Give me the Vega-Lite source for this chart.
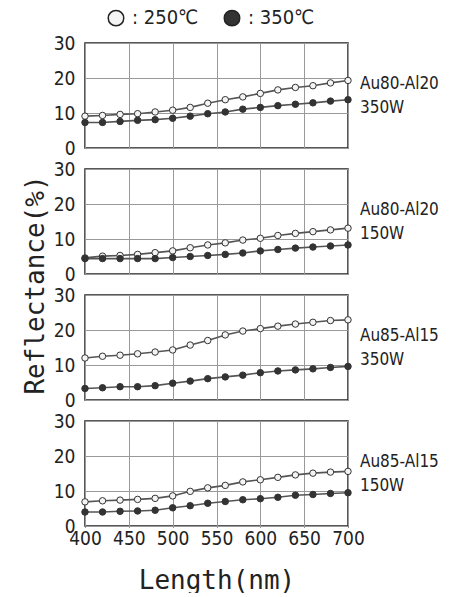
{
  "$schema": "https://vega.github.io/schema/vega-lite/v6.json",
  "padding": {"left": 22, "top": 8, "right": 0, "bottom": 0},
  "autosize": {"type": "pad"},
  "background": "white",
  "data": {"values": [
    {"panel":"Au80-Al20| 350W","temp":"250","nm":400,"r":9.1},{"panel":"Au80-Al20| 350W","temp":"250","nm":420,"r":9.3},{"panel":"Au80-Al20| 350W","temp":"250","nm":440,"r":9.6},{"panel":"Au80-Al20| 350W","temp":"250","nm":460,"r":9.8},{"panel":"Au80-Al20| 350W","temp":"250","nm":480,"r":10.3},{"panel":"Au80-Al20| 350W","temp":"250","nm":500,"r":10.8},{"panel":"Au80-Al20| 350W","temp":"250","nm":520,"r":11.6},{"panel":"Au80-Al20| 350W","temp":"250","nm":540,"r":12.8},{"panel":"Au80-Al20| 350W","temp":"250","nm":560,"r":13.8},{"panel":"Au80-Al20| 350W","temp":"250","nm":580,"r":14.6},{"panel":"Au80-Al20| 350W","temp":"250","nm":600,"r":15.6},{"panel":"Au80-Al20| 350W","temp":"250","nm":620,"r":16.6},{"panel":"Au80-Al20| 350W","temp":"250","nm":640,"r":17.3},{"panel":"Au80-Al20| 350W","temp":"250","nm":660,"r":17.8},{"panel":"Au80-Al20| 350W","temp":"250","nm":680,"r":18.6},{"panel":"Au80-Al20| 350W","temp":"250","nm":700,"r":19.3},
    {"panel":"Au80-Al20| 350W","temp":"350","nm":400,"r":7.3},{"panel":"Au80-Al20| 350W","temp":"350","nm":420,"r":7.3},{"panel":"Au80-Al20| 350W","temp":"350","nm":440,"r":7.6},{"panel":"Au80-Al20| 350W","temp":"350","nm":460,"r":7.9},{"panel":"Au80-Al20| 350W","temp":"350","nm":480,"r":8.1},{"panel":"Au80-Al20| 350W","temp":"350","nm":500,"r":8.5},{"panel":"Au80-Al20| 350W","temp":"350","nm":520,"r":9.1},{"panel":"Au80-Al20| 350W","temp":"350","nm":540,"r":9.8},{"panel":"Au80-Al20| 350W","temp":"350","nm":560,"r":10.3},{"panel":"Au80-Al20| 350W","temp":"350","nm":580,"r":11.1},{"panel":"Au80-Al20| 350W","temp":"350","nm":600,"r":11.6},{"panel":"Au80-Al20| 350W","temp":"350","nm":620,"r":12.1},{"panel":"Au80-Al20| 350W","temp":"350","nm":640,"r":12.5},{"panel":"Au80-Al20| 350W","temp":"350","nm":660,"r":12.9},{"panel":"Au80-Al20| 350W","temp":"350","nm":680,"r":13.4},{"panel":"Au80-Al20| 350W","temp":"350","nm":700,"r":13.8},
    {"panel":"Au80-Al20| 150W","temp":"250","nm":400,"r":4.6},{"panel":"Au80-Al20| 150W","temp":"250","nm":420,"r":5.1},{"panel":"Au80-Al20| 150W","temp":"250","nm":440,"r":5.3},{"panel":"Au80-Al20| 150W","temp":"250","nm":460,"r":5.6},{"panel":"Au80-Al20| 150W","temp":"250","nm":480,"r":6.1},{"panel":"Au80-Al20| 150W","temp":"250","nm":500,"r":6.6},{"panel":"Au80-Al20| 150W","temp":"250","nm":520,"r":7.5},{"panel":"Au80-Al20| 150W","temp":"250","nm":540,"r":8.3},{"panel":"Au80-Al20| 150W","temp":"250","nm":560,"r":8.9},{"panel":"Au80-Al20| 150W","temp":"250","nm":580,"r":9.7},{"panel":"Au80-Al20| 150W","temp":"250","nm":600,"r":10.2},{"panel":"Au80-Al20| 150W","temp":"250","nm":620,"r":11.0},{"panel":"Au80-Al20| 150W","temp":"250","nm":640,"r":11.6},{"panel":"Au80-Al20| 150W","temp":"250","nm":660,"r":12.1},{"panel":"Au80-Al20| 150W","temp":"250","nm":680,"r":12.6},{"panel":"Au80-Al20| 150W","temp":"250","nm":700,"r":13.1},
    {"panel":"Au80-Al20| 150W","temp":"350","nm":400,"r":4.4},{"panel":"Au80-Al20| 150W","temp":"350","nm":420,"r":4.4},{"panel":"Au80-Al20| 150W","temp":"350","nm":440,"r":4.4},{"panel":"Au80-Al20| 150W","temp":"350","nm":460,"r":4.4},{"panel":"Au80-Al20| 150W","temp":"350","nm":480,"r":4.4},{"panel":"Au80-Al20| 150W","temp":"350","nm":500,"r":4.7},{"panel":"Au80-Al20| 150W","temp":"350","nm":520,"r":5.0},{"panel":"Au80-Al20| 150W","temp":"350","nm":540,"r":5.3},{"panel":"Au80-Al20| 150W","temp":"350","nm":560,"r":5.6},{"panel":"Au80-Al20| 150W","temp":"350","nm":580,"r":6.0},{"panel":"Au80-Al20| 150W","temp":"350","nm":600,"r":6.6},{"panel":"Au80-Al20| 150W","temp":"350","nm":620,"r":7.0},{"panel":"Au80-Al20| 150W","temp":"350","nm":640,"r":7.4},{"panel":"Au80-Al20| 150W","temp":"350","nm":660,"r":7.7},{"panel":"Au80-Al20| 150W","temp":"350","nm":680,"r":8.0},{"panel":"Au80-Al20| 150W","temp":"350","nm":700,"r":8.3},
    {"panel":"Au85-Al15| 350W","temp":"250","nm":400,"r":12.0},{"panel":"Au85-Al15| 350W","temp":"250","nm":420,"r":12.5},{"panel":"Au85-Al15| 350W","temp":"250","nm":440,"r":12.8},{"panel":"Au85-Al15| 350W","temp":"250","nm":460,"r":13.2},{"panel":"Au85-Al15| 350W","temp":"250","nm":480,"r":13.7},{"panel":"Au85-Al15| 350W","temp":"250","nm":500,"r":14.3},{"panel":"Au85-Al15| 350W","temp":"250","nm":520,"r":15.7},{"panel":"Au85-Al15| 350W","temp":"250","nm":540,"r":17.0},{"panel":"Au85-Al15| 350W","temp":"250","nm":560,"r":18.6},{"panel":"Au85-Al15| 350W","temp":"250","nm":580,"r":19.7},{"panel":"Au85-Al15| 350W","temp":"250","nm":600,"r":20.4},{"panel":"Au85-Al15| 350W","temp":"250","nm":620,"r":21.1},{"panel":"Au85-Al15| 350W","temp":"250","nm":640,"r":21.7},{"panel":"Au85-Al15| 350W","temp":"250","nm":660,"r":22.2},{"panel":"Au85-Al15| 350W","temp":"250","nm":680,"r":22.7},{"panel":"Au85-Al15| 350W","temp":"250","nm":700,"r":22.9},
    {"panel":"Au85-Al15| 350W","temp":"350","nm":400,"r":3.3},{"panel":"Au85-Al15| 350W","temp":"350","nm":420,"r":3.5},{"panel":"Au85-Al15| 350W","temp":"350","nm":440,"r":3.8},{"panel":"Au85-Al15| 350W","temp":"350","nm":460,"r":3.8},{"panel":"Au85-Al15| 350W","temp":"350","nm":480,"r":4.1},{"panel":"Au85-Al15| 350W","temp":"350","nm":500,"r":4.8},{"panel":"Au85-Al15| 350W","temp":"350","nm":520,"r":5.4},{"panel":"Au85-Al15| 350W","temp":"350","nm":540,"r":6.1},{"panel":"Au85-Al15| 350W","temp":"350","nm":560,"r":6.6},{"panel":"Au85-Al15| 350W","temp":"350","nm":580,"r":7.1},{"panel":"Au85-Al15| 350W","temp":"350","nm":600,"r":7.8},{"panel":"Au85-Al15| 350W","temp":"350","nm":620,"r":8.3},{"panel":"Au85-Al15| 350W","temp":"350","nm":640,"r":8.6},{"panel":"Au85-Al15| 350W","temp":"350","nm":660,"r":8.9},{"panel":"Au85-Al15| 350W","temp":"350","nm":680,"r":9.3},{"panel":"Au85-Al15| 350W","temp":"350","nm":700,"r":9.6},
    {"panel":"Au85-Al15| 150W","temp":"250","nm":400,"r":6.9},{"panel":"Au85-Al15| 150W","temp":"250","nm":420,"r":7.2},{"panel":"Au85-Al15| 150W","temp":"250","nm":440,"r":7.4},{"panel":"Au85-Al15| 150W","temp":"250","nm":460,"r":7.6},{"panel":"Au85-Al15| 150W","temp":"250","nm":480,"r":7.9},{"panel":"Au85-Al15| 150W","temp":"250","nm":500,"r":8.6},{"panel":"Au85-Al15| 150W","temp":"250","nm":520,"r":9.9},{"panel":"Au85-Al15| 150W","temp":"250","nm":540,"r":10.9},{"panel":"Au85-Al15| 150W","temp":"250","nm":560,"r":11.6},{"panel":"Au85-Al15| 150W","temp":"250","nm":580,"r":12.6},{"panel":"Au85-Al15| 150W","temp":"250","nm":600,"r":13.2},{"panel":"Au85-Al15| 150W","temp":"250","nm":620,"r":13.9},{"panel":"Au85-Al15| 150W","temp":"250","nm":640,"r":14.6},{"panel":"Au85-Al15| 150W","temp":"250","nm":660,"r":15.1},{"panel":"Au85-Al15| 150W","temp":"250","nm":680,"r":15.4},{"panel":"Au85-Al15| 150W","temp":"250","nm":700,"r":15.6},
    {"panel":"Au85-Al15| 150W","temp":"350","nm":400,"r":4.0},{"panel":"Au85-Al15| 150W","temp":"350","nm":420,"r":4.0},{"panel":"Au85-Al15| 150W","temp":"350","nm":440,"r":4.2},{"panel":"Au85-Al15| 150W","temp":"350","nm":460,"r":4.3},{"panel":"Au85-Al15| 150W","temp":"350","nm":480,"r":4.5},{"panel":"Au85-Al15| 150W","temp":"350","nm":500,"r":5.2},{"panel":"Au85-Al15| 150W","temp":"350","nm":520,"r":5.8},{"panel":"Au85-Al15| 150W","temp":"350","nm":540,"r":6.5},{"panel":"Au85-Al15| 150W","temp":"350","nm":560,"r":7.0},{"panel":"Au85-Al15| 150W","temp":"350","nm":580,"r":7.5},{"panel":"Au85-Al15| 150W","temp":"350","nm":600,"r":7.8},{"panel":"Au85-Al15| 150W","temp":"350","nm":620,"r":8.2},{"panel":"Au85-Al15| 150W","temp":"350","nm":640,"r":8.8},{"panel":"Au85-Al15| 150W","temp":"350","nm":660,"r":9.0},{"panel":"Au85-Al15| 150W","temp":"350","nm":680,"r":9.3},{"panel":"Au85-Al15| 150W","temp":"350","nm":700,"r":9.5}
  ]},
  "facet": {"row": {"field": "panel", "type": "nominal",
    "sort": ["Au80-Al20| 350W", "Au80-Al20| 150W", "Au85-Al15| 350W", "Au85-Al15| 150W"],
    "header": {"labelOrient": "right", "labelAngle": 0, "labelAlign": "left", "labelBaseline": "line-bottom",
      "labelExpr": "split(datum.value, '|')", "labelFont": "DejaVu Sans Condensed", "labelFontSize": 17, "labelColor": "#222", "labelPadding": -73, "labelLineHeight": 24,
      "title": "Reflectance(%)", "titleOrient": "left", "titleFont": "DejaVu Sans Mono", "titleFontSize": 26, "titleFontWeight": "normal", "titleColor": "#222", "titlePadding": -6}}},
  "spacing": 19,
  "spec": {
    "width": 263, "height": 105,
    "encoding": {
      "x": {"field": "nm", "type": "quantitative", "scale": {"domain": [400, 700], "nice": false},
            "axis": {"values": [400, 450, 500, 550, 600, 650, 700], "title": "Length(nm)", "ticks": true, "tickSize": -5, "tickColor": "#222", "labelPadding": 7, "titlePadding": 19}},
      "y": {"field": "r", "type": "quantitative", "scale": {"domain": [0, 30], "nice": false},
            "axis": {"values": [0, 10, 20, 30], "title": null}}
    },
    "layer": [
      {"mark": {"type": "line", "color": "#555", "strokeWidth": 1.6},
       "encoding": {"detail": {"field": "temp"}}},
      {"mark": {"type": "point", "filled": true, "size": 42, "stroke": "#333", "strokeWidth": 1, "opacity": 1},
       "encoding": {
         "fill": {"field": "temp", "type": "nominal", "scale": {"domain": ["250", "350"], "range": ["#f4f4f4", "#333333"]},
                  "legend": {"title": null, "orient": "none", "legendX": 21, "legendY": -35, "direction": "horizontal",
                             "labelExpr": "': ' + datum.label + '℃'", "symbolType": "circle", "symbolSize": 240,
                             "symbolStrokeColor": "#222", "symbolStrokeWidth": 1.5, "symbolOpacity": 1,
                             "labelFont": "DejaVu Sans Condensed", "labelFontSize": 20, "labelColor": "#222", "columnPadding": 22, "labelOffset": 6}}}}
    ]
  },
  "config": {
    "view": {"stroke": "#222", "strokeWidth": 1.5},
    "axis": {"domain": false, "grid": true, "gridColor": "#999", "gridWidth": 1, "ticks": false,
             "labelFont": "DejaVu Sans Condensed", "labelFontSize": 19, "labelColor": "#222", "labelFlush": false, "labelPadding": 4,
             "titleFont": "DejaVu Sans Mono", "titleFontSize": 26, "titleFontWeight": "normal", "titleColor": "#222", "titlePadding": 12}
  }
}
